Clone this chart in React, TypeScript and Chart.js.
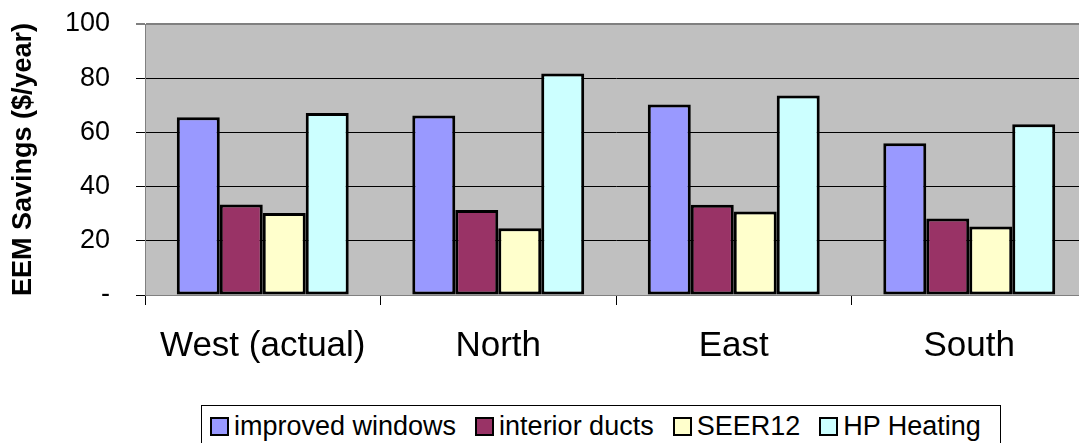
import React, { useEffect, useRef } from 'react';
import { Chart, registerables } from 'chart.js';

Chart.register(...registerables);

const categories = ['West (actual)', 'North', 'East', 'South'];
const seriesNames = ['improved windows', 'interior ducts', 'SEER12', 'HP Heating'];
const improvedWindows = [65.6, 66.2, 70.3, 56.0];
const interiorDucts = [33.4, 31.4, 33.3, 28.2];
const seer12 = [30.3, 24.6, 30.8, 25.3];
const hpHeating = [67.2, 81.7, 73.6, 63.0];
const seriesColors = ['#9999FF', '#993366', '#FFFFCC', '#CCFFFF'];
const yTickValues = [0, 20, 40, 60, 80, 100];
const yTickLabels = ['-', '20', '40', '60', '80', '100'];
const yTitle = 'EEM Savings ($/year)';

const FONT = "'Liberation Sans', Arial, Helvetica, sans-serif";

const plotBg = {
  id: 'plotBg',
  beforeDraw(chart: any) {
    const { ctx, chartArea: a } = chart;
    ctx.save();
    ctx.fillStyle = '#C0C0C0';
    ctx.fillRect(a.left, a.top, a.right - a.left, a.bottom - a.top);
    ctx.restore();
  },
};

export default function App() {
  const ref = useRef<HTMLCanvasElement>(null);

  useEffect(() => {
    const series = [improvedWindows, interiorDucts, seer12, hpHeating];
    const chart = new Chart(ref.current as HTMLCanvasElement, {
      type: 'bar',
      data: {
        labels: categories,
        datasets: series.map((d, i) => ({
          label: seriesNames[i],
          data: d,
          backgroundColor: seriesColors[i],
          borderColor: '#000000',
          borderWidth: 3,
          borderSkipped: false,
          barPercentage: 1,
          categoryPercentage: 0.73,
        })),
      },
      options: {
        animation: false,
        responsive: false,
        devicePixelRatio: 1,
        layout: { padding: { left: 0, right: 13, top: 24, bottom: 0 } },
        plugins: {
          legend: { display: false },
          tooltip: { enabled: false },
        },
        scales: {
          x: {
            type: 'category',
            grid: {
              offset: true,
              drawOnChartArea: false,
              drawTicks: true,
              tickLength: 10,
              tickColor: '#000000',
              tickWidth: 1,
            },
            border: { display: true, color: '#808080', width: 1 },
            ticks: {
              font: { family: FONT, size: 35 },
              color: '#000000',
              padding: 20,
              maxRotation: 0,
              autoSkip: false,
            },
            afterFit: (s: any) => {
              s.height = 148;
              s.paddingLeft = 0;
              s.paddingRight = 0;
            },
          },
          y: {
            min: 0,
            max: 100,
            afterBuildTicks: (s: any) => {
              s.ticks = yTickValues.map((v) => ({ value: v }));
            },
            ticks: {
              font: { family: FONT, size: 27 },
              color: '#000000',
              padding: 26,
              callback: (_v: any, i: number) => yTickLabels[i],
            },
            grid: {
              color: (c: any) =>
                c.tick && (c.tick.value === 100 || c.tick.value === 0) ? '#808080' : '#000000',
              lineWidth: (c: any) => (c.tick && c.tick.value === 100 ? 2 : 1),
              tickLength: 9,
              tickColor: '#000000',
              tickWidth: 1,
            },
            border: { display: true, color: '#808080', width: 1 },
            title: {
              display: true,
              text: yTitle,
              color: '#000000',
              font: { family: FONT, size: 27, weight: 'bold' },
              padding: { top: 7, bottom: 0 },
            },
            afterFit: (s: any) => {
              s.width = 145;
              s.paddingTop = 0;
              s.paddingBottom = 0;
            },
          },
        },
      },
      plugins: [plotBg],
    } as any);
    return () => chart.destroy();
  }, []);

  return (
    <div
      style={{
        position: 'fixed',
        left: 0,
        top: 0,
        width: 1079,
        height: 443,
        overflow: 'hidden',
        background: '#ffffff',
      }}
    >
      <canvas
        ref={ref}
        width={1100}
        height={443}
        style={{ position: 'absolute', left: 0, top: 0, width: 1100, height: 443 }}
      />
      <div
        style={{
          position: 'absolute',
          left: 201,
          top: 405,
          width: 800,
          height: 60,
          border: '1px solid #000',
          boxSizing: 'border-box',
          background: '#ffffff',
          display: 'flex',
          alignItems: 'flex-start',
          paddingLeft: 8,
          paddingTop: 7,
          fontFamily: FONT,
          fontSize: 27,
          lineHeight: '27px',
          color: '#000',
          whiteSpace: 'nowrap',
        }}
      >
        {seriesNames.map((n, i) => (
          <div key={n} style={{ display: 'flex', alignItems: 'center', marginRight: 19 }}>
            <span
              style={{
                display: 'inline-block',
                width: 19,
                height: 19,
                boxSizing: 'border-box',
                border: '2px solid #000',
                background: seriesColors[i],
                marginRight: 5,
              }}
            />
            <span>{n}</span>
          </div>
        ))}
      </div>
    </div>
  );
}
